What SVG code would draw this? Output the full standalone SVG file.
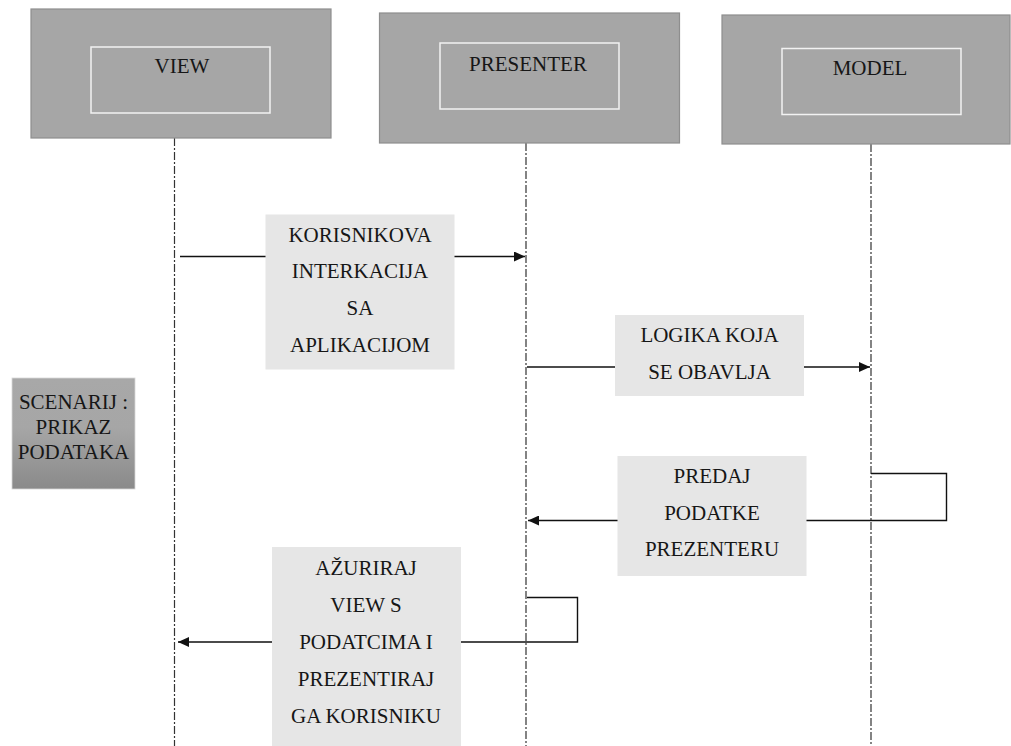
<svg xmlns="http://www.w3.org/2000/svg" width="1011" height="746" viewBox="0 0 1011 746">
<defs>
<marker id="arr" markerWidth="12" markerHeight="10" refX="11" refY="5" orient="auto" markerUnits="userSpaceOnUse">
<path d="M0,0 L11,5 L0,10 Z" fill="#111"/>
</marker>
<linearGradient id="scen" x1="0" y1="0" x2="0" y2="1">
<stop offset="0" stop-color="#a8a8a8"/>
<stop offset="0.45" stop-color="#a6a6a6"/>
<stop offset="1" stop-color="#8a8a8a"/>
</linearGradient>
<style>
.outer{fill:#a6a6a6;stroke:#8e8e8e;stroke-width:1.2}
.inner{fill:none;stroke:#f2f2f2;stroke-width:1.5}
.lbl{fill:#e6e6e6}
.life{stroke:#333;stroke-width:1.2;stroke-dasharray:8 2 2 2;fill:none}
.msg{stroke:#111;stroke-width:1.4;fill:none}
.t{font-family:'Liberation Serif','Times New Roman',serif;font-size:21px;fill:#161616;text-anchor:middle}
</style>
</defs>
<rect width="1011" height="746" fill="#fff"/>
<g id="lifelines">
<line class="life" x1="174.5" y1="138" x2="174.5" y2="746"/>
<line class="life" x1="526" y1="143" x2="526" y2="746"/>
<line class="life" x1="871" y1="144" x2="871" y2="746"/>
</g>
<g id="view">
<rect class="outer" x="31" y="9" width="300" height="129"/>
<rect class="inner" x="91" y="47" width="179" height="66"/>
<text class="t" x="182" y="73">VIEW</text>
</g>
<g id="presenter">
<rect class="outer" x="379.5" y="13" width="300" height="130"/>
<rect class="inner" x="440" y="43" width="179" height="66"/>
<text class="t" x="528" y="70.5">PRESENTER</text>
</g>
<g id="model">
<rect class="outer" x="722" y="15" width="288" height="129"/>
<rect class="inner" x="782" y="48.5" width="179" height="66"/>
<text class="t" x="870" y="74.5">MODEL</text>
</g>
<g id="connectors">
<line class="msg" x1="180" y1="256.5" x2="525" y2="256.5" marker-end="url(#arr)"/>
<line class="msg" x1="527" y1="367" x2="870" y2="367" marker-end="url(#arr)"/>
<polyline class="msg" points="871,473.5 946.5,473.5 946.5,520.5 528,520.5" marker-end="url(#arr)"/>
<polyline class="msg" points="527,597.5 577.5,597.5 577.5,642 178,642" marker-end="url(#arr)"/>
</g>
<g id="msg1">
<rect class="lbl" x="265.5" y="214.5" width="189" height="155"/>
<text class="t" x="360" y="241.5">KORISNIKOVA</text>
<text class="t" x="360" y="278">INTERKACIJA</text>
<text class="t" x="360" y="315">SA</text>
<text class="t" x="360" y="351.5">APLIKACIJOM</text>
</g>
<g id="msg2">
<rect class="lbl" x="615" y="315" width="189" height="81"/>
<text class="t" x="709.5" y="342">LOGIKA KOJA</text>
<text class="t" x="709.5" y="379">SE OBAVLJA</text>
</g>
<g id="msg3">
<rect class="lbl" x="617.5" y="456" width="189" height="120"/>
<text class="t" x="712" y="483">PREDAJ</text>
<text class="t" x="712" y="519.5">PODATKE</text>
<text class="t" x="712" y="555.5">PREZENTERU</text>
</g>
<g id="msg4">
<rect class="lbl" x="272" y="547" width="189" height="199"/>
<text class="t" x="366" y="575">AŽURIRAJ</text>
<text class="t" x="366" y="612">VIEW S</text>
<text class="t" x="366" y="649">PODATCIMA I</text>
<text class="t" x="366" y="686">PREZENTIRAJ</text>
<text class="t" x="366" y="722.5">GA KORISNIKU</text>
</g>
<g id="scenario">
<rect x="12" y="378" width="123" height="111" fill="url(#scen)" stroke="#d8d8d8" stroke-width="0.8"/>
<text class="t" x="73.5" y="409">SCENARIJ :</text>
<text class="t" x="73.5" y="434">PRIKAZ</text>
<text class="t" x="73.5" y="459">PODATAKA</text>
</g>
</svg>
